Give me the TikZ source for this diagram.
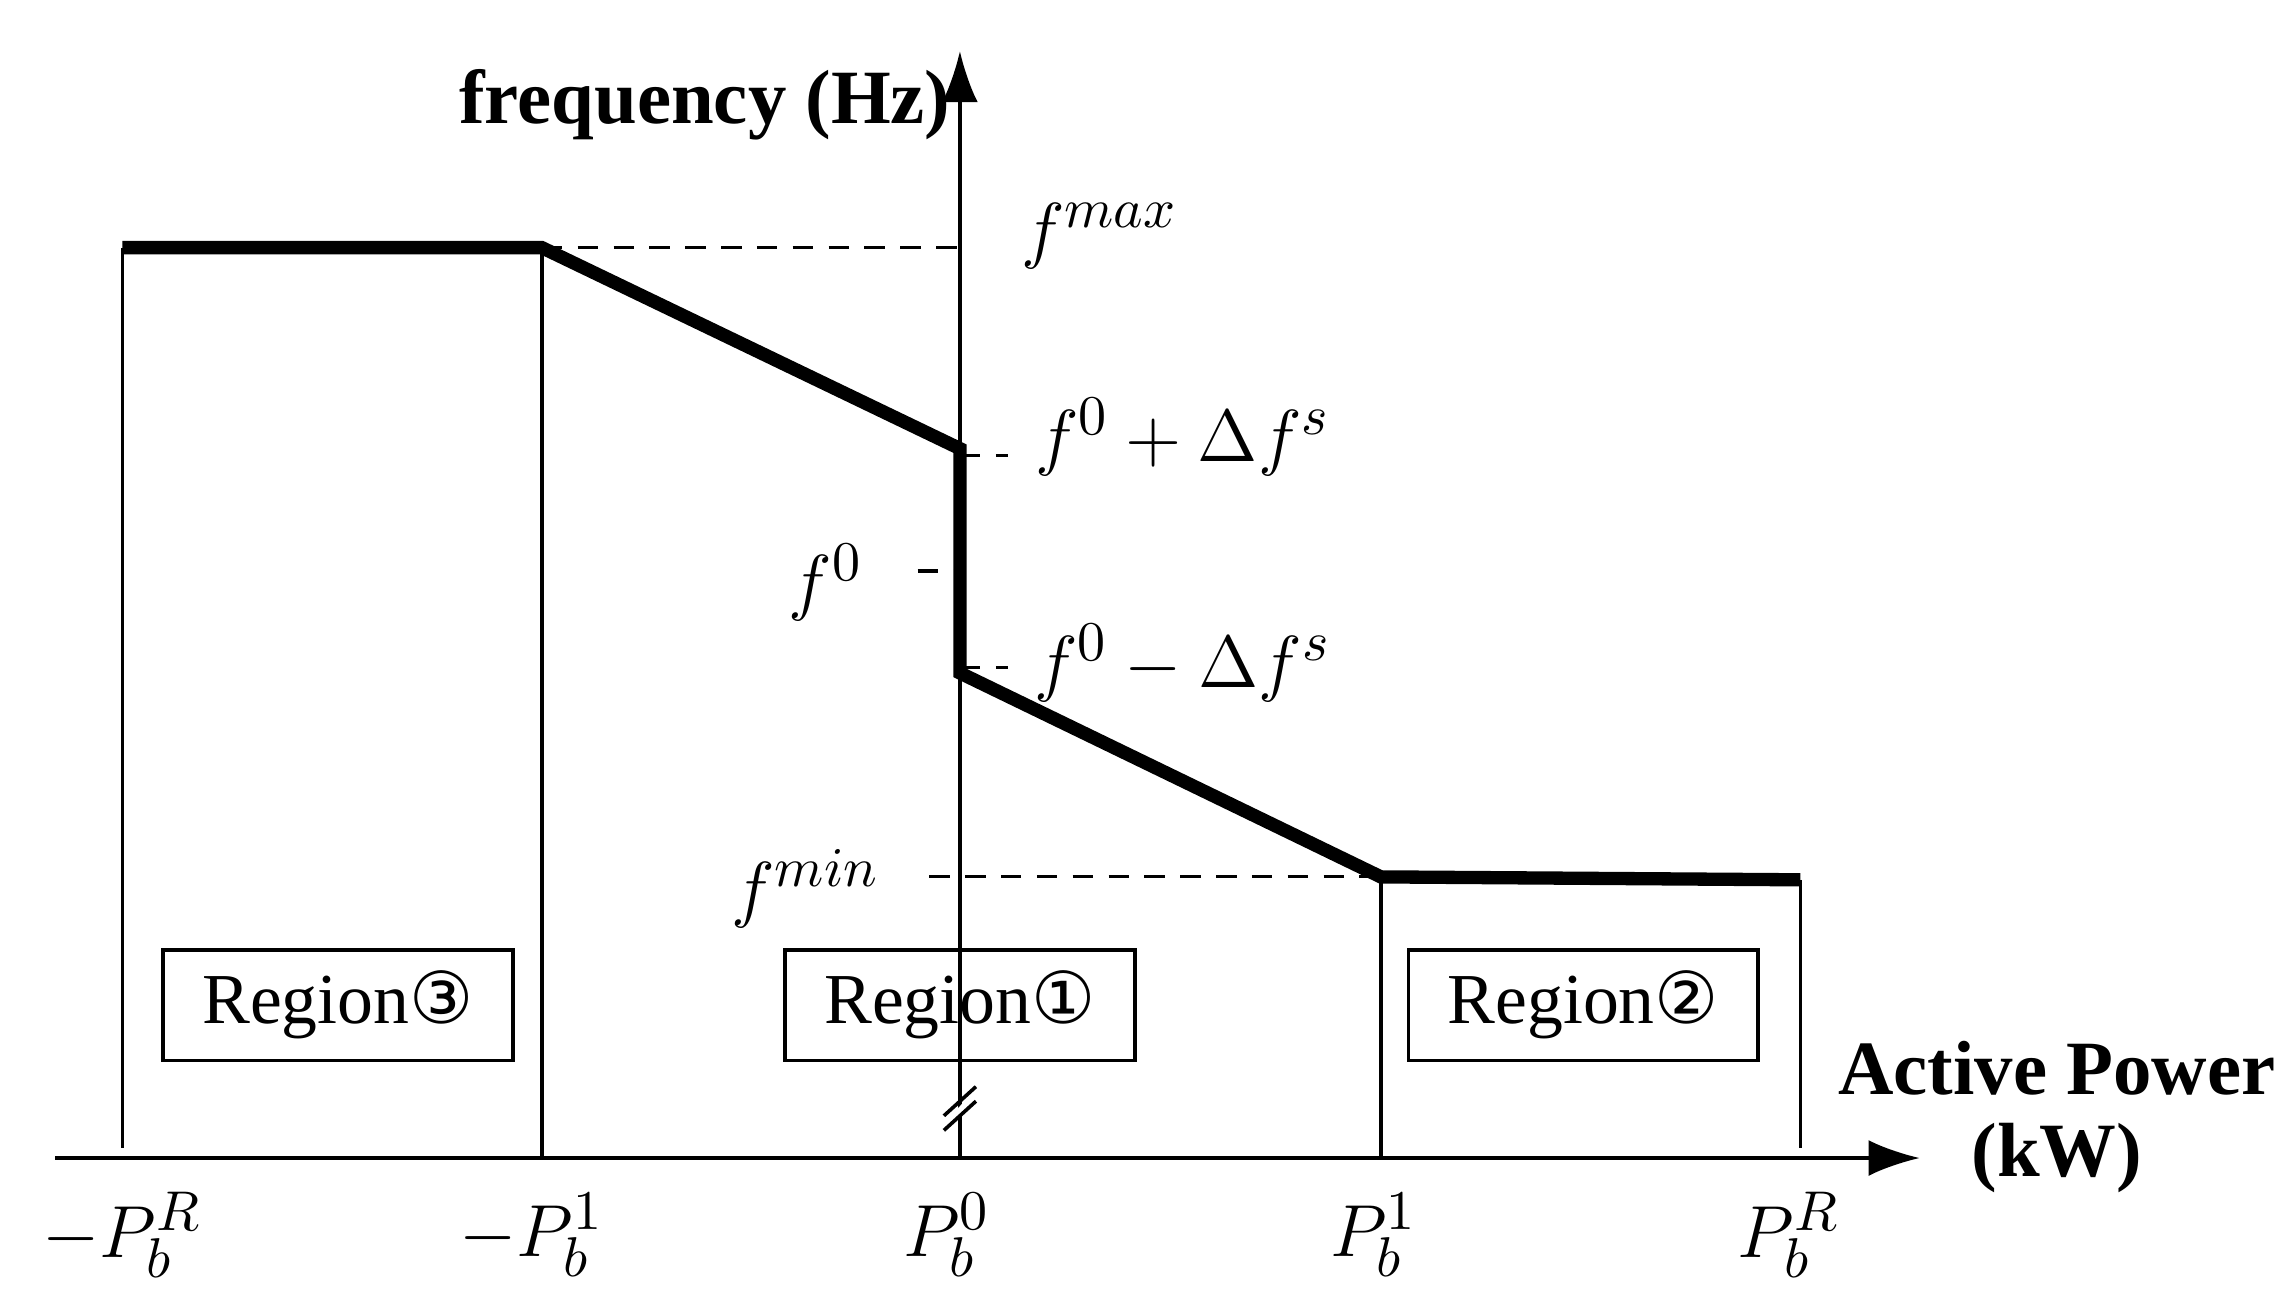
\documentclass[tikz,border=0pt]{standalone}
\usepackage{fontspec}
\setmainfont{Liberation Serif}
\newfontfamily\dejavu{DejaVu Sans}
\usetikzlibrary{arrows.meta}
\begin{document}
\begin{tikzpicture}[x=0.1mm,y=-0.1mm,
  axl/.style={line width=0.7pt},
  curve/.style={line width=2.6pt,line join=miter},
  dsh/.style={line width=0.6pt,dash pattern=on 4pt off 3pt},
  lab/.style={font=\fontsize{15}{16}\selectfont},
  reg/.style={draw,axl,minimum width=24mm,minimum height=7.6mm,font=\fontsize{14}{15}\selectfont},
  ttl/.style={font=\bfseries\fontsize{15}{16}\selectfont,align=center}]
\useasboundingbox (0,0) rectangle (1568,900);
\coordinate (xs) at (38,795); \coordinate (xe) at (1318,795);
\coordinate (ys) at (659,795); \coordinate (ye) at (659,35);
\draw[axl,-{Latex[length=10pt,width=7pt]}] (xs) -- (xe);
\draw[axl,-{Latex[length=10pt,width=7pt]}] (ys) -- (ye);
\draw[axl] (84,170) -- (84,788);
\draw[axl] (372,170) -- (372,795);
\draw[axl] (948,602) -- (948,795);
\draw[axl] (1236,604) -- (1236,788);
\draw[dsh] (372,170) -- (659,170);
\draw[dsh] (659,313) -- (692,313);
\draw[dsh] (630,392) -- (659,392);
\draw[dsh] (659,458) -- (692,458);
\draw[dsh] (638,602) -- (948,602);
\draw[curve] (84,170) -- (372,170) -- (659,308) -- (659,462) -- (948,602) -- (1236,604);
\draw[line width=1pt,white] (650,772) -- (668,752);
\draw[axl] (648,766) -- (670,746);
\draw[axl] (648,776) -- (670,756);
\node[lab] (fmax) at (755,162) {$f^{max}$};
\node[lab] (fps) at (812,300) {$f^{0}+\Delta f^{s}$};
\node[lab] (f0) at (567,400) {$f^{0}$};
\node[lab] (fms) at (812,455) {$f^{0}-\Delta f^{s}$};
\node[lab] (fmin) at (553,610) {$f^{min}$};
\node[reg] (r3) at (232,690) {Region{\dejavu ③}};
\node[reg] (r1) at (659,690) {Region{\dejavu ①}};
\node[reg] (r2) at (1087,690) {Region{\dejavu ②}};
\node[lab] (a1) at (84,848) {$-P_b^R$};
\node[lab] (a2) at (365,848) {$-P_b^1$};
\node[lab] (a3) at (650,848) {$P_b^0$};
\node[lab] (a4) at (943,848) {$P_b^1$};
\node[lab] (a5) at (1228,848) {$P_b^R$};
\node[ttl] (ty) at (484,72) {frequency (Hz)};
\node[ttl] (tx) at (1412,767) {Active Power\\(kW)};
\end{tikzpicture}
\end{document}
